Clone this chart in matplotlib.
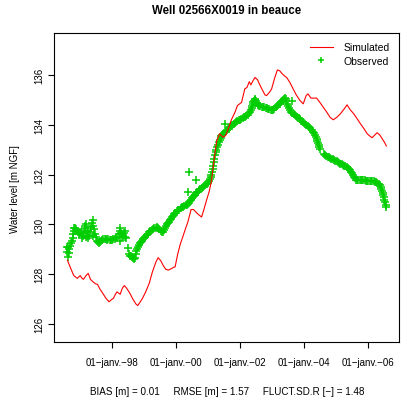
import datetime as dt

import matplotlib
matplotlib.use("Agg")
import matplotlib.pyplot as plt
import matplotlib.dates as mdates

plt.rcParams["font.family"] = ["Liberation Sans", "DejaVu Sans"]

# simulated head (decimal year, m NGF)
sim_t = [1996.60, 1996.70, 1996.80, 1996.91, 1997.00, 1997.05, 1997.10, 1997.18,
         1997.25, 1997.32, 1997.40, 1997.48, 1997.54, 1997.62, 1997.70, 1997.80,
         1997.90, 1997.97, 1998.04, 1998.10, 1998.15, 1998.20, 1998.25, 1998.32,
         1998.38, 1998.45, 1998.55, 1998.65, 1998.75, 1998.80, 1998.88, 1998.95,
         1999.05, 1999.16, 1999.26, 1999.37, 1999.44, 1999.52, 1999.60, 1999.68,
         1999.76, 1999.84, 1999.92, 1999.97, 2000.05, 2000.13, 2000.21, 2000.30,
         2000.37, 2000.47, 2000.55, 2000.62, 2000.70, 2000.80, 2000.88, 2000.96,
         2001.03, 2001.10, 2001.16, 2001.22, 2001.27, 2001.36, 2001.47, 2001.55,
         2001.63, 2001.73, 2001.84, 2001.92, 2002.05, 2002.15, 2002.22, 2002.29,
         2002.34, 2002.40, 2002.47, 2002.55, 2002.62, 2002.70, 2002.78, 2002.83,
         2002.92, 2002.99, 2003.08, 2003.17, 2003.24, 2003.32, 2003.40, 2003.46,
         2003.56, 2003.66, 2003.76, 2003.88, 2003.98, 2004.07, 2004.13, 2004.22,
         2004.31, 2004.40, 2004.50, 2004.61, 2004.72, 2004.82, 2004.92, 2005.03,
         2005.14, 2005.25, 2005.35, 2005.45, 2005.56, 2005.66, 2005.77, 2005.88,
         2005.98, 2006.06, 2006.13, 2006.21, 2006.29, 2006.37, 2006.45, 2006.52,
         2006.58]
sim_h = [128.57, 128.25, 127.95, 127.84, 127.95, 127.85, 127.80, 127.95,
         128.04, 127.80, 127.70, 127.62, 127.60, 127.40, 127.25, 127.05,
         126.90, 126.98, 127.04, 127.20, 127.30, 127.25, 127.20, 127.45,
         127.55, 127.45, 127.25, 127.00, 126.80, 126.75, 126.90, 127.04,
         127.30, 127.64, 128.10, 128.50, 128.67, 128.55, 128.35, 128.20,
         128.17, 128.22, 128.28, 128.30, 128.80, 129.20, 129.50, 129.85,
         130.10, 130.60, 130.60, 130.50, 130.40, 130.30, 130.64, 131.00,
         131.30, 131.70, 132.30, 132.90, 133.35, 133.64, 133.50, 133.57,
         133.84, 134.20, 134.50, 134.77, 134.90, 135.44, 135.50, 135.73,
         135.60, 135.75, 135.90, 135.80, 135.60, 135.40, 135.20, 135.17,
         135.30, 135.44, 135.85, 136.20, 136.17, 136.05, 135.95, 135.90,
         135.70, 135.45, 135.20, 134.97, 134.84, 135.17, 135.24, 135.07,
         135.07, 135.07, 134.90, 134.70, 134.50, 134.30, 134.20, 134.30,
         134.44, 134.62, 134.80, 134.60, 134.44, 134.25, 134.04, 133.84,
         133.64, 133.55, 133.48, 133.58, 133.68, 133.60, 133.44, 133.30,
         133.15]

# observed head, read in stretches
obs_t_9698 = [1996.58, 1996.60, 1996.62, 1996.64, 1996.66, 1996.68, 1996.70, 1996.73,
              1996.76, 1996.79, 1996.82, 1996.85, 1996.88, 1996.91, 1996.94, 1996.97,
              1997.00, 1997.03, 1997.06, 1997.09, 1997.12, 1997.15, 1997.18, 1997.20,
              1997.22, 1997.25, 1997.28, 1997.31, 1997.34, 1997.37, 1997.39, 1997.41,
              1997.43, 1997.46, 1997.49, 1997.52, 1997.55, 1997.58, 1997.61, 1997.64,
              1997.68, 1997.72, 1997.76, 1997.80, 1997.84, 1997.88, 1997.92, 1997.96,
              1998.00, 1998.04, 1998.08, 1998.12, 1998.16, 1998.20, 1998.23, 1998.26,
              1998.29, 1998.32, 1998.35, 1998.38, 1998.41, 1998.44, 1998.48, 1996.62,
              1997.18, 1997.25, 1997.40, 1998.26, 1998.40, 1996.80, 1997.05, 1997.14]
obs_h_9698 = [129.10, 128.90, 128.70, 128.85, 129.00, 129.15, 129.25, 129.35,
              129.45, 129.60, 129.75, 129.85, 129.80, 129.75, 129.70, 129.62,
              129.65, 129.70, 129.65, 129.55, 129.70, 129.85, 130.00, 129.75,
              129.55, 129.45, 129.55, 129.70, 129.90, 130.05, 130.20, 129.95,
              129.80, 129.60, 129.50, 129.35, 129.28, 129.25, 129.30, 129.35,
              129.38, 129.40, 129.42, 129.40, 129.38, 129.40, 129.38, 129.37,
              129.38, 129.40, 129.42, 129.45, 129.50, 129.60, 129.75, 129.85,
              129.65, 129.50, 129.55, 129.65, 129.50, 129.45, 129.04, 129.10,
              129.50, 129.75, 129.55, 129.35, 129.75, 129.85, 129.45, 129.95]

obs_t_9800 = [1998.52, 1998.55, 1998.58, 1998.61, 1998.64, 1998.67, 1998.70, 1998.73,
              1998.76, 1998.79, 1998.82, 1998.85, 1998.88, 1998.91, 1998.94, 1998.97,
              1999.00, 1999.04, 1999.08, 1999.12, 1999.16, 1999.20, 1999.24, 1999.28,
              1999.32, 1999.36, 1999.40, 1999.44, 1999.48, 1999.52, 1999.56, 1999.59,
              1999.62, 1999.65, 1999.68, 1999.71, 1999.74, 1999.77, 1999.80, 1999.83,
              1999.86, 1999.89, 1999.92, 1999.95, 1999.98, 2000.02, 2000.06, 2000.10,
              2000.14, 2000.18, 2000.22, 2000.26, 2000.30, 2000.34, 2000.38, 2000.41,
              2000.44, 2000.47, 2000.50, 2000.53, 2000.56, 2000.59, 2000.62, 2000.65,
              2000.68, 2000.72, 2000.76, 2000.80, 2000.84, 2000.88, 2000.92, 2000.96]
obs_h_9800 = [128.80, 128.75, 128.72, 128.70, 128.66, 128.63, 128.65, 128.80,
              128.92, 129.02, 129.10, 129.18, 129.24, 129.30, 129.35, 129.40,
              129.45, 129.50, 129.56, 129.62, 129.68, 129.73, 129.77, 129.80,
              129.84, 129.87, 129.88, 129.86, 129.80, 129.74, 129.68, 129.70,
              129.78, 129.86, 129.93, 130.00, 130.06, 130.12, 130.18, 130.24,
              130.30, 130.35, 130.40, 130.44, 130.48, 130.53, 130.57, 130.60,
              130.65, 130.69, 130.72, 130.75, 130.78, 130.80, 130.83, 130.88,
              130.94, 131.00, 131.05, 131.10, 131.15, 131.20, 131.25, 131.29,
              131.32, 131.37, 131.42, 131.46, 131.50, 131.54, 131.58, 131.62]

obs_t_0102 = [2001.00, 2001.03, 2001.06, 2001.08, 2001.10, 2001.12, 2001.14, 2001.16,
              2001.18, 2001.20, 2001.22, 2001.24, 2001.26, 2001.28, 2001.30, 2001.33,
              2001.36, 2001.39, 2001.42, 2001.45, 2001.48, 2001.52, 2001.56, 2001.60,
              2001.64, 2001.68, 2001.72, 2001.76, 2001.80, 2001.84, 2001.88, 2001.92,
              2001.96, 2002.00, 2002.04, 2002.08, 2002.12, 2002.16, 2002.20, 2002.24,
              2002.28, 2002.31, 2002.34, 2002.36, 2002.38, 2002.40, 2002.42, 2002.44]
obs_h_0102 = [131.67, 131.75, 131.83, 131.90, 132.00, 132.10, 132.22, 132.35,
              132.50, 132.64, 132.78, 132.90, 133.00, 133.10, 133.18, 133.30,
              133.40, 133.47, 133.53, 133.58, 133.64, 133.70, 133.76, 133.80,
              133.85, 133.90, 133.94, 133.99, 134.04, 134.08, 134.12, 134.15,
              134.18, 134.21, 134.24, 134.27, 134.30, 134.33, 134.37, 134.41,
              134.47, 134.53, 134.60, 134.68, 134.76, 134.84, 134.90, 134.97]

obs_t_0204 = [2002.46, 2002.48, 2002.50, 2002.53, 2002.56, 2002.60, 2002.64, 2002.68,
              2002.72, 2002.76, 2002.80, 2002.84, 2002.88, 2002.92, 2002.96, 2003.00,
              2003.04, 2003.08, 2003.12, 2003.16, 2003.20, 2003.24, 2003.28, 2003.32,
              2003.35, 2003.38, 2003.41, 2003.43, 2003.45, 2003.48, 2003.51, 2003.54,
              2003.57, 2003.60, 2003.64, 2003.68, 2003.72, 2003.76, 2003.80, 2003.84,
              2003.88, 2003.92, 2003.96, 2004.00, 2004.04, 2004.08, 2004.12, 2004.16,
              2004.20, 2004.24, 2004.28, 2004.32, 2004.35, 2004.38, 2004.40, 2004.42,
              2004.44, 2004.46, 2004.48, 2004.51]
obs_h_0204 = [135.04, 135.00, 134.94, 134.86, 134.80, 134.76, 134.74, 134.72,
              134.71, 134.70, 134.69, 134.67, 134.65, 134.63, 134.61, 134.60,
              134.61, 134.64, 134.70, 134.76, 134.80, 134.84, 134.90, 134.96,
              135.01, 135.05, 135.08, 135.02, 134.94, 134.84, 134.74, 134.66,
              134.59, 134.53, 134.47, 134.42, 134.38, 134.34, 134.30, 134.26,
              134.22, 134.17, 134.12, 134.07, 134.03, 134.00, 133.96, 133.91,
              133.86, 133.80, 133.73, 133.66, 133.58, 133.50, 133.42, 133.34,
              133.26, 133.18, 133.12, 133.04]

obs_t_0406 = [2004.63, 2004.66, 2004.70, 2004.74, 2004.78, 2004.82, 2004.86, 2004.90,
              2004.94, 2004.98, 2005.02, 2005.06, 2005.10, 2005.14, 2005.18, 2005.22,
              2005.26, 2005.30, 2005.34, 2005.38, 2005.42, 2005.45, 2005.48, 2005.51,
              2005.54, 2005.57, 2005.60, 2005.63, 2005.66, 2005.70, 2005.74, 2005.78,
              2005.82, 2005.86, 2005.90, 2005.94, 2005.98, 2006.02, 2006.06, 2006.10,
              2006.14, 2006.18, 2006.22, 2006.26, 2006.30, 2006.34, 2006.37, 2006.40,
              2006.42, 2006.44, 2006.46, 2006.48, 2006.50, 2006.52, 2006.54, 2006.56,
              2006.58]
obs_h_0406 = [132.82, 132.78, 132.75, 132.72, 132.70, 132.67, 132.64, 132.61,
              132.58, 132.56, 132.53, 132.50, 132.47, 132.44, 132.42, 132.40,
              132.36, 132.33, 132.30, 132.27, 132.22, 132.17, 132.11, 132.05,
              131.99, 131.92, 131.86, 131.80, 131.77, 131.77, 131.77, 131.78,
              131.78, 131.77, 131.77, 131.76, 131.76, 131.75, 131.75, 131.75,
              131.74, 131.73, 131.71, 131.69, 131.66, 131.64, 131.58, 131.50,
              131.42, 131.34, 131.25, 131.18, 131.10, 131.00, 130.90, 130.80,
              130.70]

# isolated observed values away from the main band
obs_t_out = [2000.37, 2000.42, 2000.63, 2001.52, 2003.62]
obs_h_out = [131.30, 132.10, 131.77, 134.04, 134.97]

x_ticks = [1998, 2000, 2002, 2004, 2006]
x_labels = ["01\u2212janv.\u221298", "01\u2212janv.\u221200", "01\u2212janv.\u221202",
            "01\u2212janv.\u221204", "01\u2212janv.\u221206"]
y_ticks = [126, 128, 130, 132, 134, 136]
stats = "BIAS [m] = 0.01     RMSE [m] = 1.57     FLUCT.SD.R [\u2212] = 1.48"


def as_date(y):
    an = int(y)
    return dt.datetime(an, 1, 1) + dt.timedelta(days=(y - an) * 365.25)


obs_t = obs_t_9698 + obs_t_9800 + obs_t_0102 + obs_t_0204 + obs_t_0406 + obs_t_out
obs_h = obs_h_9698 + obs_h_9800 + obs_h_0102 + obs_h_0204 + obs_h_0406 + obs_h_out
sim_d = [as_date(v) for v in sim_t]
obs_d = [as_date(v) for v in obs_t]

fig = plt.figure(figsize=(4.12, 4.10), dpi=100)
ax = fig.add_axes([0.131, 0.163, 0.837, 0.754])

l_obs, = ax.plot(obs_d, obs_h, ls="none", marker="+", ms=6, mew=1.1,
                 color="#00cd00", label="Observed")
l_sim, = ax.plot(sim_d, sim_h, color="#ff0000", lw=0.8, label="Simulated")

ax.set_xlim(as_date(1996.18), as_date(2006.97))
ax.set_ylim(125.28, 137.68)
ax.set_xticks([mdates.date2num(dt.datetime(a, 1, 1)) for a in x_ticks])
ax.set_xticklabels(x_labels, fontsize=7)
ax.set_yticks(y_ticks)
ax.set_yticklabels([str(v) for v in y_ticks], fontsize=7, rotation=90,
                   va="center")
ax.tick_params(axis="x", length=4.5, width=0.8, pad=6)
ax.tick_params(axis="y", length=4.5, width=0.8, pad=2.5)
for sp in ax.spines.values():
    sp.set_linewidth(0.8)

ax.set_ylabel("Water level [m NGF]", fontsize=7)
ax.yaxis.set_label_coords(-0.099, 0.5)

ax.legend([l_sim, l_obs], ["Simulated", "Observed"], loc="upper right",
          frameon=False, fontsize=7.5, handlelength=2.2, borderaxespad=0.5,
          labelspacing=0.3, handletextpad=1.0, markerscale=0.8)

fig.text(0.551, 0.973, "Well 02566X0019 in beauce", ha="center", va="center",
         fontsize=8.3, fontweight="bold")
fig.text(0.551, 0.044, stats, ha="center", va="center", fontsize=7.1)

fig.savefig("out.png", dpi=100)
